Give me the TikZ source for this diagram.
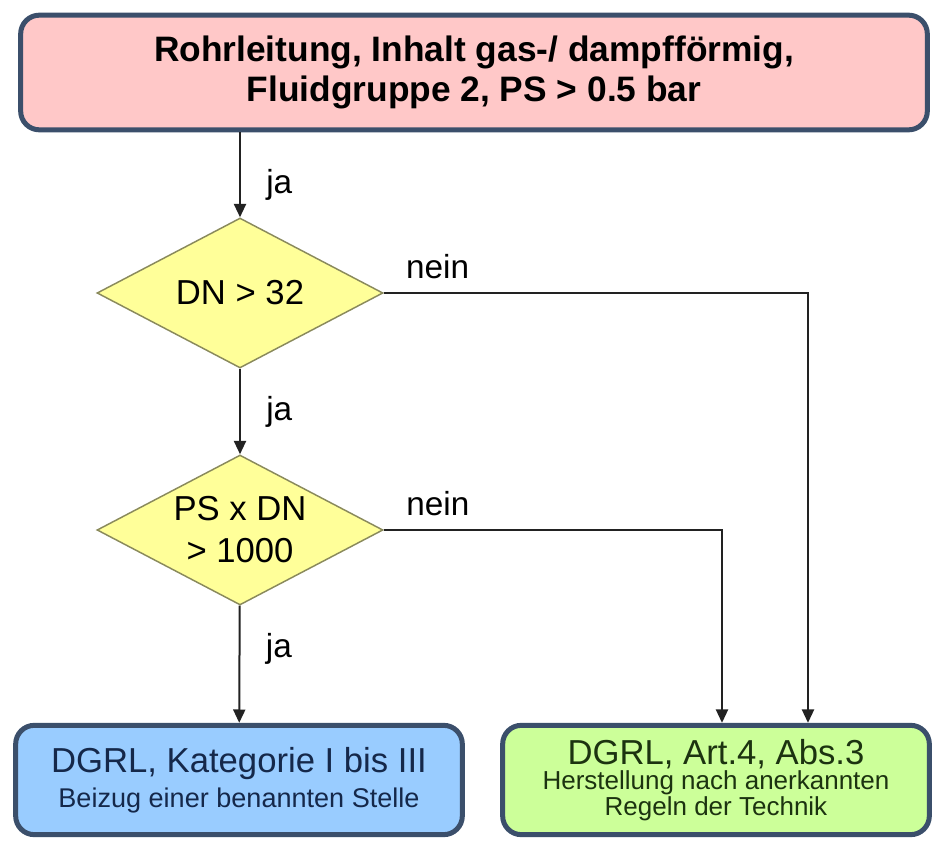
\documentclass[tikz,border=0pt]{standalone}
\usepackage{fontspec}
\setmainfont{Liberation Sans}
\usetikzlibrary{positioning,shapes.geometric,arrows.meta}

\definecolor{boxline}{HTML}{3B4F6B}
\definecolor{pipefill}{HTML}{FFC8C8}
\definecolor{katfill}{HTML}{99CCFF}
\definecolor{kattext}{HTML}{15284A}
\definecolor{artfill}{HTML}{CCFF99}
\definecolor{arttext}{HTML}{1C3310}
\definecolor{testfill}{HTML}{FFFF99}
\definecolor{testline}{HTML}{8A8A5C}
\definecolor{flowline}{HTML}{222222}

\begin{document}
\begin{tikzpicture}[x=0.75pt,y=-0.75pt,>={Triangle[width=9pt,length=10pt]},
box/.style={draw=boxline,line width=3.75pt,rounded corners=14pt,align=center,inner sep=0pt},
test/.style={diamond,shape aspect=1.907,draw=testline,fill=testfill,line width=1.1pt,minimum width=214.5pt,minimum height=112.5pt,inner sep=0pt,align=center,font=\fontsize{26}{31.5}\selectfont},
flow/.style={->,draw=flowline,line width=1.5pt},
lbl/.style={font=\fontsize{25}{30}\selectfont,inner sep=2pt}]

\useasboundingbox (0,0) rectangle (933,841);

\node[box,fill=pipefill,minimum width=680pt,minimum height=86pt,font=\bfseries\fontsize{26.5}{30}\selectfont] (pipe) at (474,72.5)
  {Rohrleitung, Inhalt gas-/ dampfförmig,\\Fluidgruppe 2, PS > 0.5 bar};

\node[test] (dn) at (240,293) {DN > 32};
\node[test] (psdn) at (240,530) {PS x DN\\> 1000};

\node[box,fill=katfill,text=kattext,minimum width=335pt,minimum height=82pt,font=\fontsize{20.3}{26}\selectfont] (kat) at (239,780)
  {{\fontsize{26}{26}\selectfont DGRL, Kategorie I bis III}\\Beizug einer benannten Stelle};
\node[box,fill=artfill,text=arttext,minimum width=320pt,minimum height=82pt,font=\fontsize{19.5}{19}\selectfont] (art) at (716,780)
  {{\fontsize{26}{26}\selectfont DGRL, Art.4, Abs.3}\\Herstellung nach anerkannten\\Regeln der Technik};

\path ([xshift=69pt]art.north) coordinate (art1)
      ([xshift=4.5pt]art.north) coordinate (art2);

\draw[flow] (dn.north |- pipe.south) -- node[lbl,right=17pt,pos=0.62] {ja} (dn);
\draw[flow] (dn) -- node[lbl,right=17pt,pos=0.5] {ja} (psdn);
\draw[flow] (psdn) -- node[lbl,right=17pt,pos=0.37] {ja} (kat);
\draw[flow] (dn.east) -- node[lbl,above=8pt,pos=0.127] {nein} (dn.east -| art1) -- (art1);
\draw[flow] (psdn.east) -- node[lbl,above=8pt,pos=0.16] {nein} (psdn.east -| art2) -- (art2);

\end{tikzpicture}
\end{document}
